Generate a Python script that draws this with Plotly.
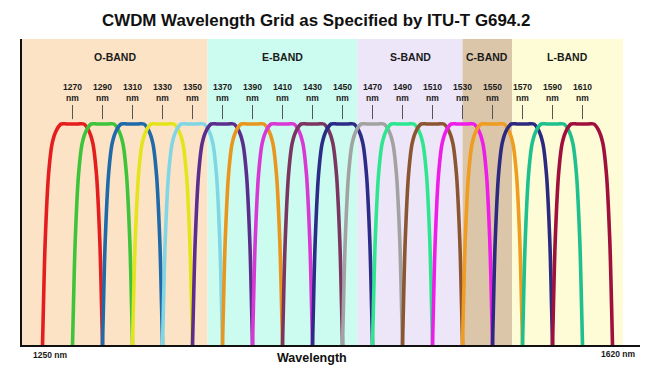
import plotly.graph_objects as go

# ---- data ----
channels_nm = [1270, 1290, 1310, 1330, 1350, 1370, 1390, 1410, 1430,
               1450, 1470, 1490, 1510, 1530, 1550, 1570, 1590, 1610]
channel_colors = ["#e41e1e", "#3ec43a", "#1f6aa8", "#e4e41c", "#80d6e4",
                  "#5b2e8e", "#e8961e", "#d838d4", "#7a3660", "#2c2c88",
                  "#a2a2a2", "#2ee690", "#8a5530", "#ee1ee8", "#f09c20",
                  "#2c2a80", "#1ec08e", "#a0103c"]

band_names = ["O-BAND", "E-BAND", "S-BAND", "C-BAND", "L-BAND"]
band_start_nm = [1236.3, 1360, 1460, 1530, 1563]
band_end_nm = [1360, 1460, 1530, 1563, 1637]
band_colors = ["#fde3c5", "#ccfbef", "#ede5f8", "#dcc6aa", "#fdfcd6"]

# filter passband profile (offset from centre in nm, relative level)
profile_offset_nm = [-20.0, -19.4, -18.2, -16.0, -13.5, -10.5, -7.5, -3.5,
                     3.5, 7.5, 10.5, 13.5, 16.0, 18.2, 19.4, 20.0]
profile_level = [0.0, 0.17, 0.47, 0.77, 0.915, 0.975, 1.0, 1.0,
                 1.0, 1.0, 0.975, 0.915, 0.77, 0.47, 0.17, 0.0]

axis_labels = ["1250 nm", "1620 nm"]
title_text = "CWDM Wavelength Grid as Specified by ITU-T G694.2"
x_title = "Wavelength"

FONT = "Arial, Liberation Sans, sans-serif"
X_RANGE = [1236.33, 1648.33]
Y_RANGE = [0, 1.3846]

W, H = 655, 375
ML, MR, MT, MB = 22, 15, 39, 30
PW, PH = W - ML - MR, H - MT - MB


def px(xp):
    return (xp - ML) / PW


def py(yp):
    return (H - MB - yp) / PH


fig = go.Figure()

for c, col in zip(channels_nm, channel_colors):
    fig.add_trace(go.Scatter(
        x=[c + o for o in profile_offset_nm],
        y=profile_level,
        mode="lines",
        line=dict(color=col, width=3.6, shape="spline", smoothing=0.9),
        hoverinfo="skip",
        showlegend=False,
    ))

shapes = []
annotations = []
for name, s, e, col in zip(band_names, band_start_nm, band_end_nm, band_colors):
    shapes.append(dict(type="rect", xref="x", yref="paper", x0=s, x1=e, y0=0, y1=1,
                       fillcolor=col, line=dict(width=0), layer="below"))
    annotations.append(dict(x=(s + e) / 2, y=1.303, xref="x", yref="y", text=f"<b>{name}</b>",
                            showarrow=False, xanchor="center", yanchor="middle",
                            font=dict(family=FONT, size=10.5, color="#1a1a1a")))

for c in channels_nm:
    annotations.append(dict(x=c, y=1.142, xref="x", yref="y", text=f"<b>{c}<br>nm</b>",
                            showarrow=False, align="center", xanchor="center", yanchor="middle",
                            font=dict(family=FONT, size=8.5, color="#1a1a1a")))
    shapes.append(dict(type="line", xref="x", yref="y", x0=c, x1=c, y0=1.022, y1=1.086,
                       line=dict(color="#555555", width=1)))

# axis end labels and title
annotations.append(dict(x=px(31), y=py(355), xref="paper", yref="paper",
                        xanchor="left", yanchor="middle",
                        text=f"<b>{axis_labels[0]}</b>", showarrow=False,
                        font=dict(family=FONT, size=8.5, color="#1a1a1a")))
annotations.append(dict(x=px(637), y=py(354), xref="paper", yref="paper",
                        xanchor="right", yanchor="middle",
                        text=f"<b>{axis_labels[1]}</b>", showarrow=False,
                        font=dict(family=FONT, size=8.5, color="#1a1a1a")))
annotations.append(dict(x=px(312), y=py(358), xref="paper", yref="paper",
                        xanchor="center", yanchor="middle",
                        text=f"<b>{x_title}</b>", showarrow=False,
                        font=dict(family=FONT, size=12.5, color="#111111")))
annotations.append(dict(x=px(315.5), y=py(20), xref="paper", yref="paper",
                        xanchor="center", yanchor="middle",
                        text=f"<b>{title_text}</b>", showarrow=False,
                        font=dict(family=FONT, size=16.9, color="#111111")))

fig.update_layout(
    width=W, height=H,
    margin=dict(l=ML, r=MR, t=MT, b=MB),
    paper_bgcolor="white", plot_bgcolor="white",
    shapes=shapes, annotations=annotations,
    xaxis=dict(range=X_RANGE, showgrid=False, zeroline=False, showticklabels=False,
               ticks="", showline=True, linecolor="#111111", linewidth=1.5, fixedrange=True),
    yaxis=dict(range=Y_RANGE, showgrid=False, zeroline=False, showticklabels=False,
               ticks="", showline=True, linecolor="#111111", linewidth=2, fixedrange=True),
)

fig.write_html("out.html", config={"displayModeBar": False},
               post_script="document.body.style.margin='0';document.body.style.overflow='hidden';")
